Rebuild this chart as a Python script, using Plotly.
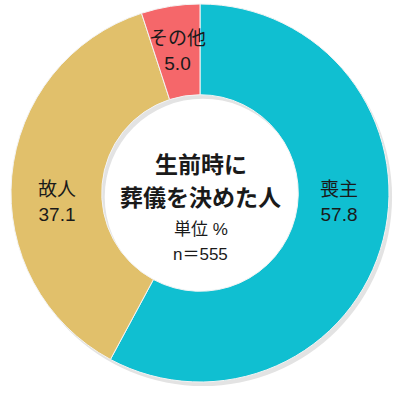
import math
import plotly.graph_objects as go

labels = ["喪主", "故人", "その他"]
values = [57.8, 37.1, 5.0]
colors = ["#10BFD1", "#E1C06B", "#F5676A"]

center_lines = ["生前時に", "葬儀を決めた人", "単位 %", "n＝555"]

font = "Liberation Sans, Noto Sans CJK JP"
HOLE = 0.52

# ring geometry in pixels (centre, outer radius)
cx, cy, r_out = 200, 193, 189

def px_to_paper(x, y):
    return x / 400, 1 - y / 400

fig = go.Figure()

# soft grey shadow behind the ring
fig.add_trace(go.Pie(
    values=[1],
    marker=dict(colors=["#E3E3E3"]),
    hole=HOLE,
    sort=False,
    textinfo="none",
    hoverinfo="skip",
    showlegend=False,
    domain=dict(x=[(cx - r_out + 3) / 400, (cx + r_out + 3) / 400],
                y=[1 - (cy + r_out + 4) / 400, 1 - (cy - r_out + 4) / 400]),
))

fig.add_trace(go.Pie(
    labels=labels,
    values=values,
    textinfo="none",
    marker=dict(colors=colors, line=dict(color="#F4F4F4", width=1)),
    hole=HOLE,
    sort=False,
    direction="clockwise",
    rotation=0,
    showlegend=False,
    domain=dict(x=[(cx - r_out) / 400, (cx + r_out) / 400],
                y=[1 - (cy + r_out) / 400, 1 - (cy - r_out) / 400]),
))

# slice labels: mid radius of the ring; the two big slices sit level with the centre
r_mid = r_out * (1 + HOLE) / 2
total = sum(values)
start = 0
for lab, v in zip(labels, values):
    mid = (start + v / 2) / total * 2 * math.pi
    start += v
    lx = cx + r_mid * math.sin(mid)
    ly = cy - r_mid * math.cos(mid)
    if v > 20:
        ly = cy + 9
    px, py = px_to_paper(lx, ly)
    fig.add_annotation(
        x=px, y=py, xref="paper", yref="paper",
        xanchor="center", yanchor="middle",
        text=f"{lab}<br>{v:.1f}", showarrow=False,
        font=dict(family=font, size=19, color="#1a1a1a"),
    )

ys = [165, 198, 229, 254]
sizes = [23, 23, 17, 17]
for txt, y, s in zip(center_lines, ys, sizes):
    if s > 18:
        txt = f"<b>{txt}</b>"
    px, py = px_to_paper(201, y)
    fig.add_annotation(
        x=px, y=py, xref="paper", yref="paper",
        xanchor="center", yanchor="middle",
        text=txt, showarrow=False,
        font=dict(family=font, size=s, color="#1a1a1a"),
    )

fig.update_layout(
    width=400,
    height=400,
    margin=dict(l=0, r=0, t=0, b=0),
    paper_bgcolor="white",
    plot_bgcolor="white",
)

fig.write_html("out.html", config={"displayModeBar": False},
               post_script="document.body.style.margin='0';")
